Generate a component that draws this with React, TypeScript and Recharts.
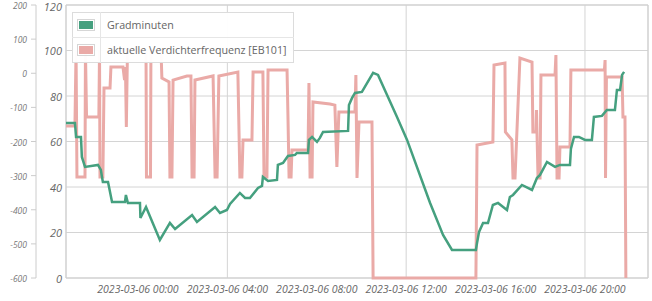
import React from 'react';
import { ComposedChart, Line, XAxis, YAxis, CartesianGrid, Legend, ReferenceArea } from 'recharts';

// time axis: hours relative to 2023-03-06 00:00
const timeTicks = [0, 4, 8, 12, 16, 20];
const xDomain = [-3.22, 22.82];
const freqTicks = [0, 20, 40, 60, 80, 100, 120];
const gmTicks = [-600, -500, -400, -300, -200, -100, 0, 100, 200];

const seriesNames = ['Gradminuten', 'aktuelle Verdichterfrequenz [EB101]'];
const seriesColors = ['#45a07f', '#eaaaa7'];

// Gradminuten
const gmHours = [
  -3.22, -2.82, -2.77, -2.55, -2.51, -2.37, -1.79, -1.66, -1.61, -1.57, -1.34, -1.16, -0.58, -0.54, -0.45,
  0.09, 0.11, 0.36, 0.98, 1.43, 1.66, 2.42, 2.64, 3.45, 3.67, 3.98, 4.12, 4.56, 4.79, 5.01, 5.37, 5.55,
  5.59, 5.82, 6.22, 6.26, 6.49, 6.71, 7.03, 7.11, 7.61, 7.65, 7.79, 8.01, 8.14, 8.28, 9.4, 9.44, 9.58,
  9.71, 10.02, 10.52, 10.74, 11.59, 12.04, 13.07, 13.65, 14.05, 15.12, 15.17, 15.26, 15.44, 15.66, 15.88,
  16.11, 16.51, 16.64, 16.78, 17.18, 17.63, 17.85, 17.99, 18.3, 18.66, 18.88, 19.33, 19.37, 19.51, 19.73,
  20.0, 20.31, 20.4, 20.76, 20.98, 21.34, 21.43, 21.57, 21.66, 21.75,
];
const gmValues = [
  -145.5, -145.5, -186.6, -186.6, -245.2, -274.5, -268.7, -283.3, -303.9, -318.5, -318.5, -377.2, -377.2, -356.6, -380.1,
  -380.1, -424.1, -391.8, -488.6, -438.7, -456.3, -415.3, -435.8, -391.8, -409.4, -400.6, -383.0, -350.8, -365.4, -365.4, -336.1, -330.3,
  -303.9, -315.6, -312.7, -268.7, -262.8, -242.3, -239.4, -233.5, -233.5, -195.4, -186.6, -201.2, -189.5, -171.9, -169.0, -92.8, -72.2,
  -57.6, -54.6, 1.1, -4.8, -128.0, -195.4, -380.1, -473.9, -517.9, -517.9, -497.4, -465.1, -438.7, -438.7, -386.0,
  -380.1, -400.6, -362.5, -356.6, -327.3, -342.0, -306.8, -298.0, -259.9, -274.5, -268.7, -268.7, -221.8, -186.6, -186.6,
  -195.4, -195.4, -128.0, -125.0, -107.4, -107.4, -48.8, -48.8, -4.8, 4.0,
];

// aktuelle Verdichterfrequenz [EB101]
const fqHours = [
  -3.22, -2.82, -2.77, -2.73, -2.37, -2.35, -2.3, -1.75, -1.72, -1.7, -1.57, -1.52, -1.25, -1.21, -0.67,
  -0.6, -0.56, -0.52, -0.47, 0.36, 0.38, 0.56, 0.58, 1.03, 1.07, 1.39, 1.43, 1.52, 1.57, 2.19, 2.37, 2.42,
  2.51, 2.55, 3.36, 3.45, 3.54, 3.62, 4.47, 4.56, 4.65, 4.7, 5.1, 5.15, 5.59, 5.64, 5.77, 5.82, 6.67, 6.71,
  6.76, 6.85, 6.89, 7.61, 7.65, 7.7, 7.79, 7.83, 8.59, 8.81, 8.9, 8.99, 9.71, 9.75, 9.8, 9.89, 10.47, 10.52,
  15.12, 15.17, 15.88, 15.93, 16.42, 16.44, 16.73, 16.78, 16.87, 17.09, 17.63, 17.67, 17.81, 17.83, 17.9,
  17.99, 18.03, 18.66, 18.7, 18.75, 18.84, 18.88, 19.33, 19.37, 20.87, 20.9, 20.92, 20.96, 21.66, 21.7,
  21.79, 21.83,
];
const fqValues = [
  66.8, 66.8, 100, 44.4, 44.4, 100, 70.8, 70.8, 100, 44.4, 44.4, 83.5, 83.5, 92.7, 92.7,
  87.0, 92.7, 66.4, 100, 100, 44.4, 44.4, 100, 100, 87.9, 86.2, 44.4, 44.4, 87.0, 88.8, 88.8, 44.4,
  44.4, 87.0, 88.8, 44.4, 44.4, 88.8, 90.5, 44.4, 44.4, 60.7, 60.7, 90.5, 90.5, 44.4, 44.4, 91.4, 91.4, 71.6,
  44.4, 44.4, 56.3, 56.3, 85.7, 44.4, 44.4, 77.4, 76.5, 76.0, 48.8, 73.0, 73.0, 89.2, 44.0, 68.6, 68.6, 0,
  0, 58.5, 59.8, 93.6, 94.5, 64.2, 60.7, 44.0, 44.0, 96.7, 94.9, 64.2, 64.2, 73.8, 44.0,
  44.0, 89.2, 89.2, 98.0, 44.0, 44.0, 57.6, 57.6, 91.4, 91.4, 95.8, 44.0, 88.4, 88.4, 70.8,
  70.8, 0,
];

const gmData = gmHours.map((t, i) => ({ t, v: gmValues[i] }));
const fqData = fqHours.map((t, i) => ({ t, v: fqValues[i] }));

const fmtTime = (h: number) => `2023-03-06 ${String(h).padStart(2, '0')}:00`;

const FONT = '"Open Sans", "DejaVu Sans", sans-serif';

function LegendBox() {
  return (
    <table
      style={{
        borderCollapse: 'collapse',
        background: 'rgba(255,255,255,0.97)',
        border: '1px solid #dcdcdc',
        fontFamily: FONT,
        fontSize: 10.7,
        color: '#666',
      }}
    >
      <tbody>
        {seriesNames.map((name, i) => (
          <tr key={name} style={{ borderTop: i ? '1px solid #e6e6e6' : undefined, height: 25 }}>
            <td style={{ padding: '0 5px 0 4px', borderRight: '1px solid #e6e6e6' }}>
              <div style={{ border: '1px solid #d6d6d6', padding: 1, width: 14, height: 8 }}>
                <div style={{ width: 14, height: 8, background: seriesColors[i] }} />
              </div>
            </td>
            <td style={{ padding: '0 6px', whiteSpace: 'nowrap' }}>{name}</td>
          </tr>
        ))}
      </tbody>
    </table>
  );
}

export default function App() {
  return (
    <div style={{ position: 'absolute', left: 0, top: 0, width: 652, height: 301, background: '#fff' }}>
      <ComposedChart width={652} height={301} margin={{ top: 5, right: 4, bottom: 0, left: 0 }}>
        <CartesianGrid
          xAxisId="time"
          yAxisId="freq"
          stroke="#d4d4d4"
          strokeWidth={1}
        />
        <XAxis
          xAxisId="time"
          dataKey="t"
          type="number"
          domain={xDomain}
          ticks={timeTicks}
          tickFormatter={fmtTime}
          allowDataOverflow
          height={23}
          axisLine={false}
          tickLine={false}
          tick={{ fontFamily: FONT, fontSize: 10.5, fontStyle: 'italic', fill: '#666' }}
        />
        <YAxis
          yAxisId="freq"
          orientation="left"
          type="number"
          domain={[0, 120]}
          ticks={freqTicks}
          width={30}
          axisLine={false}
          tickLine={false}
          tickSize={0}
          tickMargin={4}
          tick={{ fontFamily: FONT, fontSize: 11, fontStyle: 'italic', fill: '#666', dy: 1 }}
        />
        <YAxis
          yAxisId="gm"
          orientation="left"
          type="number"
          domain={[-600, 200]}
          ticks={gmTicks}
          width={36}
          axisLine={{ stroke: '#cccccc' }}
          tickLine={{ stroke: '#cccccc' }}
          tickSize={5}
          tickMargin={4}
          tick={{ fontFamily: FONT, fontSize: 8.5, fontStyle: 'italic', fill: '#777', dy: 1 }}
        />
        <ReferenceArea
          xAxisId="time"
          yAxisId="freq"
          x1={xDomain[0]}
          x2={xDomain[1]}
          y1={0}
          y2={120}
          fill="none"
          stroke="#cfcfcf"
          strokeWidth={1}
        />
        <Line
          xAxisId="time"
          yAxisId="freq"
          data={fqData}
          dataKey="v"
          type="linear"
          stroke={seriesColors[1]}
          strokeWidth={3}
          dot={false}
          isAnimationActive={false}
          name={seriesNames[1]}
        />
        <Line
          xAxisId="time"
          yAxisId="gm"
          data={gmData}
          dataKey="v"
          type="linear"
          stroke={seriesColors[0]}
          strokeWidth={2.5}
          dot={false}
          isAnimationActive={false}
          name={seriesNames[0]}
        />
        <Legend
          layout="horizontal"
          verticalAlign="middle"
          align="center"
          width={222}
          wrapperStyle={{ left: 72, top: 12, width: 'auto' }}
          content={() => <LegendBox />}
        />
      </ComposedChart>
    </div>
  );
}
